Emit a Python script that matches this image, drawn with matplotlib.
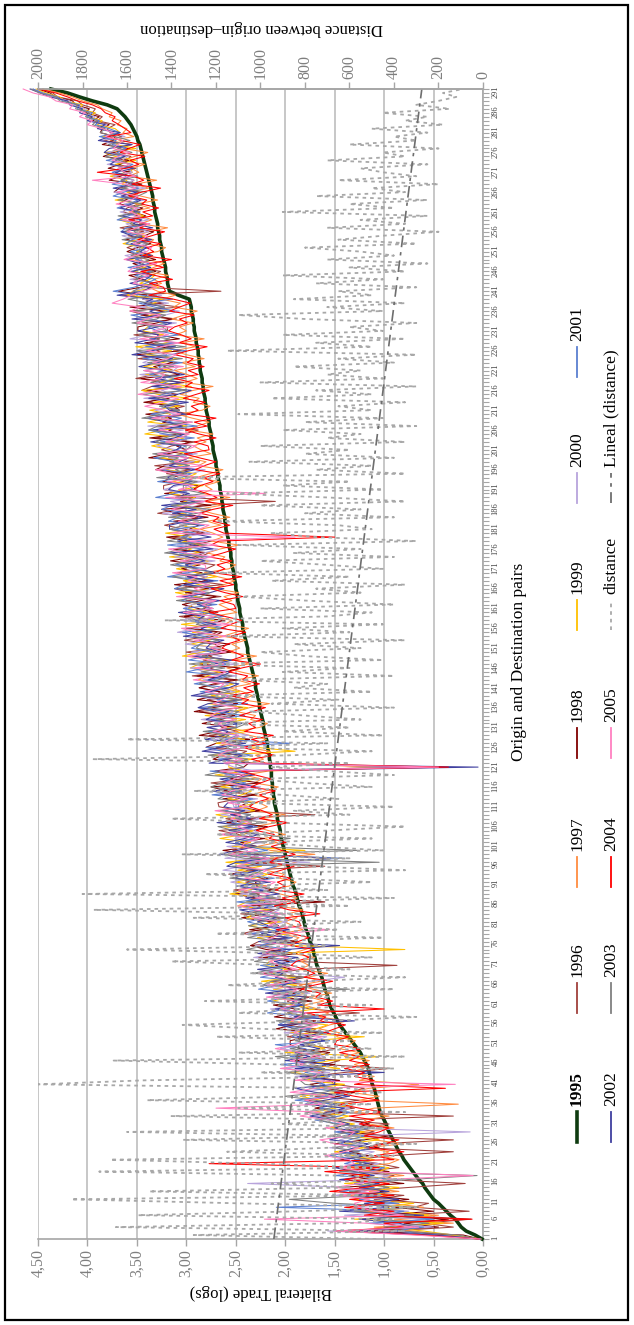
import numpy as np
import matplotlib
matplotlib.use('Agg')
import matplotlib.pyplot as plt
from matplotlib.lines import Line2D
from matplotlib.patches import Rectangle
from matplotlib.ticker import FuncFormatter

plt.rcParams['font.family'] = ['Liberation Serif', 'DejaVu Serif']

# ---------------- data ----------------
pairs = list(range(1, 292))

y1995 = [
 0.01,0.08,0.17,0.22,0.25,0.28,0.33,0.37,0.41,0.45,
 0.50,0.53,0.56,0.59,0.61,0.65,0.68,0.71,0.74,0.77,
 0.80,0.82,0.85,0.87,0.89,0.91,0.93,0.95,0.97,0.98,
 1.00,1.02,1.04,1.05,1.06,1.07,1.08,1.09,1.10,1.12,
 1.13,1.14,1.15,1.16,1.18,1.20,1.22,1.24,1.27,1.30,
 1.33,1.36,1.39,1.42,1.45,1.47,1.49,1.51,1.53,1.55,
 1.56,1.57,1.58,1.60,1.61,1.62,1.63,1.65,1.66,1.68,
 1.69,1.70,1.71,1.72,1.73,1.75,1.76,1.77,1.79,1.80,
 1.81,1.82,1.83,1.84,1.86,1.87,1.88,1.89,1.90,1.92,
 1.93,1.94,1.95,1.96,1.97,1.98,1.99,2.00,2.01,2.02,
 2.03,2.04,2.05,2.05,2.06,2.07,2.08,2.08,2.09,2.10,
 2.11,2.11,2.12,2.12,2.13,2.13,2.14,2.14,2.14,2.15,
 2.15,2.16,2.16,2.17,2.18,2.18,2.19,2.20,2.21,2.22,
 2.22,2.23,2.24,2.25,2.26,2.26,2.27,2.28,2.29,2.30,
 2.30,2.31,2.32,2.33,2.34,2.35,2.36,2.37,2.38,2.38,
 2.39,2.40,2.41,2.42,2.43,2.43,2.44,2.45,2.46,2.46,
 2.47,2.48,2.48,2.49,2.50,2.50,2.51,2.52,2.52,2.53,
 2.54,2.54,2.55,2.55,2.56,2.57,2.57,2.58,2.59,2.60,
 2.60,2.61,2.61,2.62,2.63,2.63,2.64,2.64,2.65,2.66,
 2.66,2.67,2.68,2.68,2.69,2.70,2.70,2.71,2.72,2.73,
 2.73,2.74,2.75,2.75,2.76,2.77,2.77,2.78,2.79,2.80,
 2.80,2.81,2.81,2.82,2.83,2.83,2.84,2.84,2.85,2.86,
 2.86,2.87,2.87,2.88,2.88,2.89,2.90,2.90,2.91,2.92,
 2.92,2.93,2.93,2.94,2.95,2.95,2.96,2.97,3.08,3.17,
 3.18,3.19,3.19,3.20,3.21,3.21,3.22,3.23,3.24,3.25,
 3.25,3.26,3.27,3.27,3.28,3.29,3.29,3.30,3.31,3.32,
 3.32,3.33,3.34,3.34,3.35,3.36,3.37,3.38,3.39,3.40,
 3.41,3.42,3.43,3.44,3.45,3.46,3.47,3.49,3.50,3.52,
 3.54,3.56,3.59,3.62,3.66,3.70,3.80,3.95,4.08,4.20,4.37]

y1996 = [
 0.05,0.35,0.95,0.30,0.60,0.12,0.85,0.14,0.70,0.55,
 1.10,0.80,1.30,0.75,0.18,1.00,0.90,1.25,0.85,1.05,
 1.30,0.95,0.30,1.20,1.05,0.30,1.40,1.10,1.25,0.95,
 1.45,0.30,1.60,1.30,1.55,1.25,1.70,1.35,1.20,1.50,
 1.55,1.75,1.40,0.95,1.60,1.45,1.90,1.65,1.50,1.80,
 1.65,1.98,1.76,1.69,2.02,1.74,1.91,1.25,1.75,1.92,
 1.98,1.74,2.15,1.87,1.73,2.14,1.85,2.12,1.83,0.87,
 1.91,2.27,2.18,2.04,2.35,2.27,1.93,2.44,2.26,2.07,
 2.18,2.04,2.45,2.16,2.28,2.14,2.35,2.26,2.52,2.19,
 2.40,2.21,2.47,2.38,1.60,2.45,2.36,2.27,2.53,2.39,
 2.50,2.31,2.47,2.67,2.23,2.44,2.60,1.70,2.46,2.67,
 2.68,2.48,2.34,2.64,2.40,2.75,2.41,2.61,2.46,0.80,
 2.32,2.63,2.48,2.39,2.70,2.55,2.36,2.77,2.48,2.64,
 2.69,2.50,2.66,2.87,2.43,2.63,2.79,2.45,2.66,2.87,
 2.67,2.53,2.94,2.65,2.76,2.62,2.83,2.74,3.00,2.65,
 2.71,3.02,2.78,2.69,3.00,2.70,2.86,3.07,2.68,2.83,
 2.74,3.00,2.65,2.96,3.12,2.62,2.93,2.79,3.09,2.80,
 2.71,3.01,2.87,2.77,3.08,2.94,2.74,3.15,2.86,3.02,
 3.22,3.03,2.88,3.29,3.10,2.85,2.10,3.06,3.02,3.23,
 3.23,3.04,2.90,3.20,2.96,3.32,2.97,3.18,3.04,3.25,
 3.15,2.91,3.32,3.02,2.88,3.29,2.99,3.25,2.96,3.17,
 3.02,3.38,3.28,3.14,3.45,3.35,3.01,3.51,3.32,3.13,
 3.23,3.09,3.49,3.20,3.30,3.16,3.37,3.27,3.53,3.19,
 3.19,3.45,3.10,3.41,3.57,3.07,3.38,3.24,3.65,2.65,
 3.43,3.29,3.54,3.35,3.26,3.51,3.34,3.51,3.34,3.47,
 3.60,3.48,3.39,3.59,3.43,3.67,3.44,3.58,3.49,3.64,
 3.60,3.48,3.66,3.59,3.47,3.64,3.59,3.53,3.71,3.62,
 3.51,3.70,3.61,3.56,3.77,3.68,3.55,3.84,3.65,3.77,
 3.80,3.72,3.90,3.85,3.95,3.92,4.05,4.10,4.30,4.35,4.45]

y1997 = [
 0.02,0.40,0.70,1.10,0.30,0.90,0.45,1.20,0.60,0.95,
 0.90,1.40,0.85,1.20,0.95,1.30,0.80,1.10,1.35,0.95,
 0.85,1.05,0.95,1.20,0.80,1.10,1.00,1.25,0.90,1.15,
 1.20,0.95,1.30,1.10,0.25,1.25,1.05,1.35,1.15,0.65,
 1.25,1.10,1.35,1.20,1.30,1.15,1.40,1.25,1.45,1.35,
 1.29,1.48,1.45,1.66,1.55,1.37,1.67,1.56,1.67,1.81,
 1.61,1.75,1.53,1.72,1.86,1.64,1.78,1.57,1.86,1.76,
 1.84,1.70,1.93,1.80,1.67,1.93,1.86,2.05,1.82,1.92,
 2.01,1.88,1.97,1.82,2.08,1.99,1.88,2.05,2.20,1.96,
 1.89,2.06,2.01,2.20,2.07,1.88,2.17,1.70,2.15,2.28,
 2.08,2.22,2.00,2.17,2.31,2.09,2.23,2.00,2.29,2.18,
 2.26,2.11,2.34,2.20,2.07,2.31,2.24,2.42,2.17,1.00,
 2.35,2.22,2.30,2.15,2.40,2.30,2.19,2.36,2.51,2.26,
 2.18,2.35,2.30,2.49,2.36,2.16,2.45,2.33,2.43,2.56,
 2.35,2.49,2.27,2.45,2.59,2.37,2.51,2.29,2.58,2.46,
 2.54,2.40,2.63,2.50,2.37,2.61,2.54,2.73,2.49,2.58,
 2.67,2.54,2.62,2.47,2.72,2.62,2.51,2.68,2.82,2.57,
 2.50,2.66,2.61,2.79,2.66,2.47,2.75,2.63,2.73,2.86,
 2.65,2.79,2.56,2.74,2.88,2.65,2.79,2.56,2.85,2.74,
 2.81,2.67,2.90,2.76,2.63,2.88,2.80,2.99,2.75,2.85,
 2.93,2.80,2.89,2.73,2.98,2.89,2.77,2.94,3.09,2.84,
 2.76,2.93,2.87,3.06,2.93,2.73,3.02,2.89,2.99,3.12,
 2.91,3.05,2.82,3.00,3.13,2.91,3.05,2.82,3.11,3.00,
 3.07,2.93,3.15,3.02,2.89,3.13,3.06,3.25,3.11,3.29,
 3.38,3.25,3.33,3.18,3.43,3.33,3.22,3.39,3.54,3.29,
 3.21,3.38,3.33,3.51,3.38,3.19,3.47,3.35,3.45,3.58,
 3.37,3.51,3.29,3.46,3.60,3.38,3.52,3.30,3.59,3.48,
 3.56,3.42,3.65,3.52,3.39,3.64,3.57,3.77,3.53,3.64,
 3.60,3.70,3.66,3.78,3.75,3.85,3.90,4.05,4.15,4.28,4.45]

y1998 = [
 0.03,0.20,1.20,0.45,0.80,0.35,1.05,0.50,0.90,1.10,
 0.75,1.20,1.00,1.45,0.80,1.15,1.35,0.95,1.25,1.10,
 1.45,1.15,1.35,1.05,1.50,1.20,0.95,1.45,1.30,1.15,
 1.35,1.65,1.40,1.70,1.50,1.80,1.45,1.30,1.60,1.75,
 1.45,1.80,1.60,1.75,1.50,1.90,1.70,1.55,1.85,1.95,
 1.95,1.78,1.66,2.09,1.92,1.69,2.11,1.93,1.90,2.12,
 1.73,2.04,1.90,1.82,2.13,1.99,1.80,2.22,1.93,2.10,
 1.96,2.22,1.88,2.19,2.35,1.87,2.18,2.04,2.36,2.07,
 2.13,2.44,2.20,2.11,2.43,1.60,2.30,2.51,2.12,2.29,
 2.30,2.16,2.57,2.28,2.39,2.25,1.50,2.37,2.63,2.29,
 2.45,2.21,2.62,2.32,2.18,2.59,2.30,2.55,2.26,2.47,
 2.38,2.63,2.29,2.59,2.75,2.25,2.56,2.41,2.71,2.42,
 2.37,2.73,2.63,2.49,2.80,2.70,2.36,2.87,2.68,2.49,
 2.84,2.65,2.51,2.92,2.73,2.48,2.89,2.70,2.66,2.87,
 2.72,2.48,2.89,2.60,2.46,2.87,2.58,2.84,2.55,2.75,
 2.56,2.87,2.73,2.64,2.95,2.80,2.61,3.02,2.73,2.88,
 3.04,2.85,2.70,3.01,2.77,3.12,2.78,2.99,2.84,3.05,
 2.86,3.16,2.92,2.82,3.13,2.84,2.99,3.20,2.81,2.97,
 2.87,3.13,2.78,3.09,3.25,2.75,3.06,2.91,3.22,2.93,
 2.88,3.24,3.15,3.00,3.31,3.22,2.87,3.38,3.19,3.00,
 3.10,2.96,3.37,3.07,3.18,3.04,3.24,3.15,3.41,3.07,
 3.12,3.43,3.18,3.09,3.40,3.10,3.26,3.46,3.07,3.23,
 3.33,3.14,3.29,3.50,3.05,3.26,3.42,3.07,3.28,3.49,
 3.49,3.30,3.15,3.46,3.22,3.57,3.23,3.44,3.40,3.69,
 3.46,3.34,3.44,3.58,3.31,3.43,3.54,3.31,3.46,3.60,
 3.50,3.36,3.62,3.42,3.33,3.59,3.41,3.58,3.41,3.54,
 3.44,3.68,3.62,3.52,3.73,3.68,3.45,3.78,3.67,3.55,
 3.79,3.67,3.58,3.84,3.73,3.58,3.85,3.74,3.72,3.87,
 3.85,3.78,3.95,3.88,4.02,3.98,4.12,4.15,4.32,4.38,4.50]

y1999 = [
 0.02,0.30,0.60,0.95,0.40,1.30,0.55,0.85,1.00,0.70,
 1.30,0.95,1.15,0.85,1.40,0.90,1.25,1.05,0.95,1.30,
 1.10,1.30,1.50,1.20,1.40,1.05,1.35,1.20,1.55,1.30,
 1.55,1.35,1.70,1.50,1.30,1.65,1.85,1.45,1.70,1.40,
 1.80,1.60,1.95,1.45,1.75,1.55,1.05,2.00,1.60,1.75,
 1.75,1.20,1.96,1.69,1.57,1.99,1.71,1.98,1.70,1.92,
 2.13,1.94,1.80,2.12,1.88,2.24,1.90,2.12,1.98,2.20,
 2.16,1.97,2.13,0.79,1.90,2.12,2.28,1.94,2.16,2.37,
 2.03,2.39,2.30,2.16,2.48,2.39,2.05,2.56,2.37,2.19,
 2.50,2.31,2.17,2.48,2.24,2.60,2.26,2.47,1.80,2.54,
 2.35,2.66,2.42,2.32,2.63,2.34,2.50,2.70,2.31,2.47,
 2.28,2.58,2.44,2.34,2.65,2.50,2.31,2.71,2.41,2.57,
 2.57,2.33,2.73,1.90,2.30,2.70,2.41,2.67,2.38,2.59,
 2.64,2.40,2.81,2.52,2.38,2.78,2.49,2.75,2.46,2.67,
 2.52,2.88,2.79,2.65,2.96,2.87,2.53,3.04,2.85,2.65,
 2.96,2.77,2.63,2.94,2.70,3.05,2.71,2.92,2.78,2.98,
 2.94,2.75,2.90,3.11,2.67,2.87,3.03,2.69,2.89,3.10,
 2.91,2.76,3.17,2.87,2.98,2.84,3.04,2.95,3.21,2.87,
 3.07,2.88,3.13,3.04,2.85,3.10,3.01,2.91,3.17,3.03,
 2.83,3.14,3.00,2.90,3.21,3.07,2.87,3.28,2.99,3.15,
 3.35,3.16,3.02,3.42,3.23,2.99,3.39,3.20,3.16,3.37,
 3.07,3.33,2.98,3.29,3.45,2.95,3.26,3.11,3.42,3.13,
 3.43,3.24,3.09,3.40,3.15,3.51,3.17,3.37,3.23,3.44,
 3.39,3.20,3.45,3.36,3.17,3.42,3.33,3.24,3.60,3.54,
 3.28,3.47,3.37,3.32,3.53,3.43,3.30,3.58,3.39,3.50,
 3.43,3.64,3.49,3.42,3.63,3.44,3.54,3.68,3.43,3.54,
 3.54,3.45,3.72,3.52,3.60,3.51,3.65,3.60,3.77,3.55,
 3.56,3.72,3.51,3.72,3.83,3.51,3.72,3.64,3.85,3.67,
 3.72,3.90,3.85,3.98,3.92,4.08,4.05,4.22,4.28,4.42,4.52]

y2000 = [
 0.04,0.55,1.57,0.50,0.95,0.60,1.40,0.75,1.30,0.90,
 1.00,1.50,1.20,1.35,2.38,1.10,0.95,1.40,1.20,1.05,
 1.50,1.25,1.10,1.55,1.20,1.45,1.30,0.13,1.40,1.20,
 1.40,1.70,1.50,1.35,1.75,1.45,1.60,1.85,1.55,1.65,
 1.60,1.90,1.55,2.00,1.70,1.85,1.60,1.75,2.05,1.80,
 1.70,1.58,2.01,1.74,1.87,1.74,1.96,1.88,2.15,1.82,
 1.83,2.09,1.75,2.07,2.23,1.74,1.40,1.92,2.23,1.95,
 2.01,2.32,2.08,1.99,2.30,2.02,2.18,2.39,2.01,2.17,
 1.98,2.29,2.15,2.06,2.38,2.24,2.05,2.46,2.17,2.34,
 2.55,2.36,2.22,2.63,2.44,1.75,2.61,2.42,2.38,2.59,
 2.20,2.51,2.37,2.27,2.58,2.44,2.25,2.65,2.36,2.52,
 2.53,2.28,2.69,2.39,2.25,2.65,2.36,2.61,2.31,2.52,
 2.62,2.43,2.58,2.79,2.35,2.55,2.71,2.37,2.58,2.79,
 2.54,2.85,2.61,2.52,2.83,2.53,2.69,2.90,2.51,2.67,
 2.57,2.83,2.49,2.80,2.96,2.47,2.78,2.64,2.95,2.65,
 3.01,2.82,2.68,3.09,2.90,2.65,3.06,2.87,2.83,3.03,
 2.94,2.75,3.00,2.91,2.72,2.97,2.88,2.79,3.04,2.90,
 2.96,2.71,3.12,2.82,2.68,3.09,2.79,3.05,2.76,2.97,
 3.07,2.88,3.03,3.24,2.80,3.00,3.16,2.81,3.02,3.23,
 3.08,2.84,3.25,2.95,2.81,3.22,2.92,3.18,2.89,3.10,
 3.30,3.11,2.97,3.27,3.03,3.39,3.04,3.25,3.11,3.32,
 3.17,3.03,3.43,3.14,3.25,3.10,3.31,3.21,3.47,3.13,
 3.08,3.44,3.34,3.20,3.50,3.41,3.07,3.57,3.38,3.19,
 3.34,3.10,3.50,3.21,3.07,3.47,3.18,3.44,3.25,3.54,
 3.40,3.31,3.57,3.38,3.46,3.36,3.50,3.45,3.62,3.40,
 3.53,3.41,3.52,3.65,3.38,3.51,3.61,3.38,3.53,3.67,
 3.47,3.63,3.42,3.62,3.73,3.41,3.62,3.53,3.74,3.55,
 3.59,3.80,3.65,3.59,3.80,3.61,3.72,3.87,3.62,3.74,
 3.88,3.80,3.98,3.92,4.05,4.02,4.15,4.18,4.35,4.45,4.55]

y2001 = [
 0.03,0.45,0.90,0.60,1.15,0.50,1.00,0.80,2.09,0.85,
 1.25,1.05,1.45,1.10,1.30,0.85,1.50,1.15,1.00,1.40,
 1.25,1.55,1.30,1.10,1.45,1.35,1.20,1.50,1.15,1.45,
 1.70,1.45,1.35,1.65,1.50,1.90,1.55,1.40,1.75,1.60,
 1.75,1.55,1.80,1.65,2.05,1.60,1.95,1.70,1.80,2.10,
 1.55,1.93,1.86,1.74,2.07,1.99,1.66,2.18,2.00,1.82,
 2.18,1.99,1.85,2.27,2.08,1.84,2.25,2.07,2.03,2.25,
 1.86,2.17,2.03,1.94,2.25,2.12,1.93,2.34,2.06,2.22,
 2.38,2.19,2.05,2.36,2.13,2.49,2.15,2.36,2.22,2.44,
 2.35,2.11,2.52,2.23,2.09,2.50,1.40,2.47,2.18,2.39,
 2.50,2.31,2.57,2.47,2.28,2.54,2.45,2.35,2.61,2.47,
 2.48,2.33,2.74,2.44,2.55,2.40,2.61,2.51,2.76,0.60,
 2.42,2.68,2.33,2.64,2.80,1.95,2.61,2.47,2.78,2.49,
 2.49,2.75,2.41,2.72,2.88,2.38,2.69,2.55,2.86,2.57,
 2.92,2.73,2.59,3.00,2.81,2.57,2.98,2.79,2.75,2.95,
 2.86,2.67,2.83,3.04,2.60,2.80,2.96,2.62,2.83,3.03,
 2.69,3.05,2.95,2.81,3.12,3.02,2.68,3.19,2.99,2.80,
 3.11,2.91,2.77,3.07,2.83,3.19,2.84,3.05,2.91,3.12,
 2.82,3.18,3.08,2.94,3.25,3.15,2.81,3.31,3.12,2.93,
 2.98,3.29,3.05,2.95,3.26,2.97,3.12,3.33,2.94,3.10,
 3.00,3.26,2.92,3.22,3.38,2.89,3.19,3.05,3.36,3.07,
 3.27,3.08,3.33,3.24,3.05,3.30,3.21,3.11,3.37,3.23,
 3.28,3.04,3.44,3.15,3.00,3.41,3.12,3.37,3.08,3.29,
 3.39,3.20,3.35,3.56,3.12,3.32,3.48,3.14,3.45,3.74,
 3.53,3.41,3.31,3.52,3.36,3.59,3.37,3.51,3.42,3.57,
 3.37,3.61,3.55,3.45,3.66,3.61,3.37,3.70,3.59,3.47,
 3.70,3.58,3.49,3.74,3.63,3.48,3.75,3.63,3.61,3.75,
 3.63,3.54,3.81,3.62,3.70,3.61,3.75,3.71,3.88,3.67,
 3.78,3.92,3.88,4.00,3.95,4.10,4.08,4.25,4.30,4.45,4.55]

y2002 = [
 0.02,0.50,1.30,0.70,0.85,1.25,0.60,1.45,0.95,1.20,
 0.85,1.30,0.95,1.25,1.05,1.45,1.10,1.30,1.50,1.15,
 1.40,1.20,1.45,1.30,1.15,1.55,1.40,1.25,1.50,1.35,
 1.50,1.75,1.55,1.40,1.80,1.60,1.35,1.70,1.90,1.50,
 1.50,1.85,1.00,1.90,1.55,2.00,1.75,1.90,1.65,1.85,
 1.60,1.88,1.56,1.89,2.07,1.30,1.91,1.78,2.10,1.82,
 1.93,1.79,2.20,1.92,2.03,1.89,2.10,2.02,2.28,1.95,
 2.11,1.87,2.28,1.99,1.45,2.27,1.98,2.24,1.96,2.17,
 2.28,2.09,2.25,2.46,2.03,2.24,2.40,2.06,2.27,2.49,
 2.15,2.51,2.42,2.28,2.59,2.50,2.16,2.67,2.48,2.29,
 2.60,2.41,2.27,2.57,2.33,2.69,2.35,2.55,2.41,2.62,
 2.58,2.38,2.54,2.74,2.30,2.50,2.66,2.31,2.51,0.05,
 2.77,2.58,2.43,2.84,2.65,2.40,2.81,2.62,2.58,2.79,
 2.44,2.80,2.71,2.57,2.88,2.78,2.44,2.95,2.76,2.57,
 2.47,2.78,2.64,2.55,2.86,2.72,2.53,2.94,2.65,2.80,
 2.76,2.62,3.03,2.74,2.85,2.70,2.91,2.82,3.08,2.73,
 2.89,2.65,3.05,2.76,2.62,3.02,2.73,2.99,2.69,2.90,
 3.01,2.81,2.97,3.17,2.73,2.94,3.09,2.75,2.96,3.17,
 3.17,2.98,2.83,3.14,2.90,3.25,2.91,3.11,2.97,3.18,
 3.13,2.94,3.20,3.10,2.91,3.17,3.07,2.98,3.24,3.10,
 3.05,3.36,3.12,3.02,3.33,3.04,3.19,3.40,3.01,3.17,
 3.22,2.98,3.38,3.09,2.95,3.35,3.06,3.31,3.02,3.23,
 3.48,3.29,3.14,3.55,3.35,3.11,3.52,3.32,3.28,3.49,
 3.29,3.15,3.55,3.26,3.37,3.22,3.43,3.34,3.70,3.44,
 3.36,3.57,3.41,3.35,3.56,3.36,3.47,3.61,3.36,3.47,
 3.40,3.56,3.35,3.55,3.66,3.34,3.54,3.45,3.66,3.47,
 3.67,3.55,3.46,3.66,3.50,3.74,3.52,3.66,3.57,3.72,
 3.53,3.77,3.71,3.62,3.83,3.78,3.55,3.89,3.78,3.67,
 3.90,3.82,4.00,3.95,4.08,4.05,4.18,4.20,4.38,4.48,4.58]

y2003 = [
 0.05,0.25,0.80,1.00,0.55,1.10,0.70,1.30,0.65,1.50,
 1.96,1.10,1.35,0.95,1.20,0.75,0.06,1.45,1.10,1.25,
 1.15,1.40,1.25,1.50,1.30,1.20,1.55,1.35,1.10,1.50,
 1.65,1.50,1.80,1.55,1.45,1.70,2.00,1.60,1.45,1.80,
 1.85,1.65,2.00,1.60,1.85,1.70,2.10,1.65,1.95,1.70,
 1.90,1.73,1.61,1.94,1.72,2.09,1.76,1.98,1.85,2.07,
 1.78,2.14,2.05,1.35,2.23,2.14,1.80,2.32,2.13,1.95,
 2.31,2.12,1.98,2.39,2.20,1.97,2.38,2.19,2.16,2.37,
 2.23,1.99,2.40,2.11,1.98,2.39,2.10,2.36,2.07,2.29,
 2.25,2.56,2.32,2.23,2.54,1.05,2.41,2.62,1.25,2.39,
 2.30,1.95,2.22,2.52,2.68,2.19,2.50,2.35,2.66,2.37,
 2.33,2.68,2.59,2.44,2.75,2.65,2.31,2.81,2.61,2.42,
 2.52,2.38,2.78,2.49,2.60,2.45,2.66,2.57,2.83,2.49,
 2.39,2.70,2.56,2.47,2.78,2.63,2.44,2.85,2.56,2.72,
 2.87,2.68,2.54,2.85,2.61,2.97,2.63,2.84,2.70,2.90,
 2.86,2.67,2.93,2.84,2.65,2.90,2.81,2.72,2.98,2.83,
 2.79,3.10,2.85,2.76,3.07,2.77,2.93,3.14,2.74,2.90,
 3.16,2.96,2.82,3.22,3.03,2.79,3.19,3.00,2.96,3.17,
 3.02,2.78,3.18,2.89,2.75,3.15,2.86,3.11,2.82,3.03,
 3.03,2.89,3.30,3.00,3.11,2.97,3.17,3.08,3.34,3.00,
 2.95,3.31,3.22,3.07,3.38,3.29,2.94,3.45,3.26,3.07,
 3.27,3.08,3.23,3.44,3.00,3.20,3.36,3.01,3.22,3.43,
 3.13,3.39,3.04,3.35,3.50,3.01,3.32,3.17,3.48,3.19,
 3.24,3.55,3.30,3.21,3.52,3.22,3.38,3.59,3.30,3.54,
 3.46,3.34,3.51,3.45,3.33,3.49,3.44,3.38,3.56,3.47,
 3.47,3.38,3.65,3.45,3.53,3.44,3.57,3.52,3.69,3.47,
 3.57,3.43,3.69,3.49,3.40,3.66,3.49,3.66,3.49,3.62,
 3.69,3.57,3.68,3.82,3.55,3.68,3.79,3.57,3.72,3.87,
 3.82,3.95,3.90,4.02,3.98,4.12,4.10,4.28,4.32,4.48,4.57]

y2004 = [
 0.04,0.60,1.48,0.80,1.00,0.11,1.20,0.90,1.40,1.00,
 1.35,0.90,1.55,1.20,0.95,1.40,1.15,1.60,1.05,2.77,
 0.90,1.10,0.80,1.15,1.00,0.85,1.20,1.05,0.95,1.25,
 1.10,1.35,1.00,1.25,1.45,1.05,1.30,1.50,0.38,1.30,
 1.10,1.30,1.20,1.40,1.15,1.35,1.25,1.45,1.22,1.50,
 1.48,1.36,1.61,1.50,1.39,1.65,1.59,1.79,1.00,1.67,
 1.52,1.69,1.64,1.84,1.71,1.52,1.81,1.70,1.80,1.94,
 1.89,1.76,1.85,1.70,1.95,1.87,1.76,1.93,2.09,1.84,
 1.86,2.00,1.65,1.96,2.11,1.89,2.03,1.81,2.10,2.00,
 2.08,1.94,2.17,2.04,1.91,2.16,2.09,1.90,2.04,2.14,
 1.99,2.16,2.11,2.29,2.16,1.97,2.26,2.13,2.23,2.36,
 2.31,2.17,2.26,2.10,2.35,2.25,2.14,2.30,2.44,0.35,
 2.20,2.34,2.11,2.29,2.43,2.20,2.34,2.12,2.41,2.30,
 2.37,2.23,2.46,2.33,2.20,2.44,2.37,2.56,2.32,2.42,
 2.26,2.43,2.38,2.57,2.44,2.25,2.54,2.42,2.52,2.64,
 2.59,2.46,2.55,2.40,2.65,2.55,2.44,2.61,2.76,2.50,
 2.52,2.66,2.43,2.61,2.75,2.52,2.66,2.44,2.72,2.61,
 2.69,2.54,2.77,2.63,2.50,2.75,2.67,1.50,2.62,2.72,
 2.56,2.73,2.67,2.86,2.73,2.53,2.82,2.69,2.79,2.92,
 2.86,2.73,2.82,2.66,2.91,2.82,2.70,2.87,3.02,2.77,
 2.78,2.92,2.70,2.87,3.01,2.79,2.92,2.70,2.99,2.88,
 2.95,2.81,3.03,2.90,2.77,3.01,2.94,3.12,2.88,2.98,
 2.82,2.99,2.93,3.12,2.98,2.79,3.08,2.95,3.05,3.18,
 3.12,2.99,3.07,2.92,3.17,3.07,2.96,3.13,3.38,3.21,
 3.23,3.37,3.14,3.32,3.46,3.23,3.37,3.15,3.44,3.33,
 3.40,3.26,3.49,3.35,3.22,3.47,3.39,3.58,3.34,3.44,
 3.28,3.45,3.40,3.58,3.45,3.26,3.55,3.43,3.53,3.90,
 3.61,3.48,3.57,3.42,3.67,3.58,3.47,3.65,3.80,3.56,
 3.62,3.68,3.75,3.72,3.82,3.86,3.95,4.10,4.20,4.32,4.50]

y2005 = [
 0.03,0.70,1.50,0.65,1.20,2.21,0.80,1.10,1.25,1.30,
 1.15,1.45,1.05,1.50,1.25,1.00,0.10,1.20,1.45,1.30,
 1.35,1.60,1.40,1.25,1.50,1.65,1.35,1.30,1.60,1.40,
 1.55,1.85,1.65,2.70,1.60,1.80,1.50,1.95,1.70,0.28,
 1.90,1.70,1.65,2.05,1.80,1.95,1.65,1.85,2.10,1.90,
 1.80,1.63,1.91,1.84,1.67,1.94,1.86,1.78,2.05,1.92,
 1.88,2.19,1.95,1.87,2.18,1.89,2.05,2.27,1.88,2.05,
 2.16,1.97,2.23,2.14,1.95,2.22,2.13,2.04,1.55,2.17,
 2.08,2.34,2.00,2.31,2.48,1.99,2.30,2.16,2.47,2.19,
 2.10,2.41,2.27,2.18,2.49,2.35,2.16,2.57,2.28,2.44,
 2.40,2.26,2.67,2.37,2.48,2.34,2.55,2.45,2.71,2.37,
 2.58,2.38,2.64,2.54,2.35,2.60,2.51,2.41,2.66,0.45,
 2.62,2.43,2.68,2.59,2.40,2.65,2.56,2.47,2.73,2.59,
 2.69,2.50,2.76,2.67,2.48,2.73,2.64,2.55,2.81,2.67,
 2.62,2.93,2.69,2.60,2.91,2.62,2.78,2.99,2.60,2.75,
 2.66,2.92,2.58,2.89,3.05,2.55,2.86,2.72,3.03,2.73,
 2.84,2.70,3.10,2.81,2.92,2.77,2.98,2.89,3.14,2.80,
 2.81,3.06,2.72,3.02,3.18,2.69,2.99,1.90,3.16,2.87,
 2.77,3.08,2.93,2.84,3.15,3.00,2.81,3.21,2.20,3.08,
 2.93,3.19,2.85,3.15,3.31,2.82,3.12,2.98,3.29,3.00,
 2.90,3.21,3.07,2.97,3.28,3.14,2.94,3.35,3.06,3.22,
 3.42,3.23,3.08,3.49,3.30,3.05,3.46,3.26,3.22,3.43,
 3.03,3.34,3.19,3.10,3.40,3.26,3.07,3.47,3.18,3.34,
 3.14,3.50,3.40,3.26,3.57,3.47,3.75,3.64,3.55,3.44,
 3.30,3.54,3.47,3.38,3.59,3.53,3.30,3.63,3.52,3.40,
 3.35,3.54,3.45,3.39,3.60,3.51,3.37,3.65,3.46,3.57,
 3.50,3.71,3.56,3.49,3.70,3.51,3.62,3.95,3.51,3.62,
 3.69,3.57,3.75,3.69,3.57,3.74,3.69,3.64,3.82,3.74,
 3.85,4.00,3.95,4.08,4.02,4.18,4.15,4.32,4.38,4.55,4.65]

distance = [
 480,1300,350,1650,600,400,1550,820,300,1100,
 1850,450,1500,600,950,350,650,1725,500,1000,
 1675,400,1150,700,300,1350,550,1600,450,900,
 600,1400,350,1100,500,1510,800,450,600,2000,
 1530,500,1000,400,900,1660,350,1100,500,800,
 600,1200,450,1000,1350,700,300,1100,850,500,
 1250,650,950,400,1150,800,350,1050,600,900,
 1400,500,850,1600,700,1000,450,1200,650,950,
 550,1300,800,1750,600,1000,400,1800,700,1100,
 500,900,1250,350,800,1050,600,1350,450,750,
 1000,500,1200,700,350,950,1400,600,850,400,
 1100,650,900,1300,500,800,1050,400,700,950,
 600,1750,850,500,1150,700,1600,450,900,600,
 1250,550,800,1050,400,950,650,1200,500,850,
 700,1100,400,900,600,1300,450,800,1000,550,
 850,350,1150,600,900,450,1430,700,500,1000,
 400,800,1100,550,750,350,950,600,1200,450,
 700,1000,400,850,550,1100,300,750,950,500,
 650,1200,400,800,550,1000,350,700,1150,450,
 900,600,1430,350,750,500,1050,400,800,600,
 1000,350,700,550,900,300,800,450,1100,500,
 650,350,950,500,750,300,1000,450,700,550,
 850,400,650,300,1150,500,750,350,900,450,
 600,300,800,1100,450,700,350,850,500,650,
 300,750,450,900,350,600,250,700,400,550,
 800,300,650,450,200,700,350,550,250,900,
 400,600,250,750,350,500,200,650,300,450,
 550,250,700,350,450,200,600,300,400,250,
 500,180,350,250,450,150,300,200,120,180,90]

# linear trend of distance at the first and last pair
lineal_pairs = [1, 291]
lineal_ends = [940, 275]

years = ['1995', '1996', '1997', '1998', '1999', '2000', '2001',
         '2002', '2003', '2004', '2005']
series = [y1995, y1996, y1997, y1998, y1999, y2000, y2001,
          y2002, y2003, y2004, y2005]
colors = ['#0f3b10', '#a0403c', '#ff8c40', '#800000', '#ffc000', '#b8a4dc',
          '#5b7fd0', '#3f3f9f', '#808080', '#ff0000', '#ff80c0']

value_ticks = [0, 0.5, 1.0, 1.5, 2.0, 2.5, 3.0, 3.5, 4.0, 4.5]
distance_ticks = [0, 200, 400, 600, 800, 1000, 1200, 1400, 1600, 1800, 2000]

# ---------------- figure ----------------
W, H = 634, 1325
fig = plt.figure(figsize=(W / 100, H / 100), dpi=100)


def fx(px):
    return px / W


def fy(py):
    return 1 - py / H


L, R, T, B = 38, 483, 89, 1239
ax = fig.add_axes([fx(L), fy(B), (R - L) / W, (B - T) / H])
ax.set_xlim(4.5, 0)
ax.set_ylim(1, 291)
ax.set_axisbelow(True)

ax.plot(y1995, np.arange(1, len(y1995) + 1), color=colors[0], lw=2.6,
        zorder=3, clip_on=False)
for name, vals, col in zip(years, series, colors):
    if name == '1995':
        continue
    ax.plot(vals, np.arange(1, len(vals) + 1), color=col, lw=0.75,
            clip_on=False, zorder=4)

grid_col = '#c3c3c3'
axis_col = '#a6a6a6'
ax.set_xticks(value_ticks)
ax.xaxis.set_major_formatter(FuncFormatter(lambda v, p: f"{v:.2f}".replace('.', ',')))
ax.grid(axis='x', color=grid_col, lw=1.3)
ax.tick_params(axis='x', direction='out', length=5, width=1, color=axis_col,
               labelcolor='#7f7f7f', labelsize=11.5, labelrotation=90, pad=2)

ax.yaxis.tick_right()
ax.set_yticks(pairs)
ax.set_yticklabels([str(p) if (p - 1) % 5 == 0 else '' for p in pairs])
ax.tick_params(axis='y', direction='out', length=4, width=0.8, color=axis_col,
               labelcolor='#404040', labelsize=6, labelrotation=90, pad=2)

ax.spines['left'].set_visible(False)
for s in ['right', 'bottom', 'top']:
    ax.spines[s].set_color(axis_col)
    ax.spines[s].set_linewidth(1.2)

ax2 = ax.twiny()
ax2.set_xlim(2000, 0)
ax2.set_ylim(1, 291)
ax2.set_xticks(distance_ticks)
ax2.tick_params(axis='x', direction='out', length=5, width=1, color=axis_col,
                labelcolor='#7f7f7f', labelsize=11.5, labelrotation=90, pad=2)
for s in ['left', 'right', 'bottom']:
    ax2.spines[s].set_visible(False)
ax2.spines['top'].set_color(axis_col)
ax2.spines['top'].set_linewidth(1.2)
ax2.plot(distance, np.arange(1, len(distance) + 1), color='#a8a8a8', lw=1.3,
         ls=(0, (2.0, 2.2)), zorder=2)
ax2.plot(lineal_ends, lineal_pairs, color='#6e6e6e', lw=1.2,
         ls=(0, (7, 3, 2, 3)), zorder=2)

# titles
fig.text(fx(261), fy(1292), 'Bilateral Trade (logs)', rotation=180,
         ha='center', va='center', fontsize=12)
fig.text(fx(262), fy(28), 'Distance between origin\u2013destination', rotation=180,
         ha='center', va='center', fontsize=12)
fig.text(fx(519), fy(662), 'Origin and Destination pairs', rotation=90,
         ha='center', va='center', fontsize=12.5)

# legend (manual, rotated)
leg = [
    ('1995', colors[0], 2.6, '-', 577, 1142, 'bold'),
    ('1996', colors[1], 1.3, '-', 577, 1013, 'normal'),
    ('1997', colors[2], 1.3, '-', 577, 887, 'normal'),
    ('1998', colors[3], 1.3, '-', 577, 758, 'normal'),
    ('1999', colors[4], 1.3, '-', 577, 630, 'normal'),
    ('2000', colors[5], 1.3, '-', 577, 503, 'normal'),
    ('2001', colors[6], 1.3, '-', 577, 377, 'normal'),
    ('2002', colors[7], 1.3, '-', 611, 1142, 'normal'),
    ('2003', colors[8], 1.3, '-', 611, 1013, 'normal'),
    ('2004', colors[9], 1.3, '-', 611, 887, 'normal'),
    ('2005', colors[10], 1.3, '-', 611, 758, 'normal'),
    ('distance', '#a8a8a8', 1.3, (0, (2.0, 2.2)), 611, 630, 'normal'),
    ('Lineal (distance)', '#6e6e6e', 1.3, (0, (6, 3, 2, 3)), 611, 503, 'normal'),
]
for label, col, lw, ls, x, yb, wt in leg:
    fig.add_artist(Line2D([fx(x), fx(x)], [fy(yb), fy(yb - 30)],
                          transform=fig.transFigure, color=col, lw=lw, ls=ls))
    fig.text(fx(x), fy(yb - 36), label, rotation=90, ha='center', va='bottom',
             fontsize=12.5, fontweight=wt)

# outer frame
fig.add_artist(Rectangle((fx(5), fy(1320)), 623 / W, 1315 / H,
                         transform=fig.transFigure, fill=False,
                         ec='black', lw=1.6))

fig.savefig('out.png', dpi=100)
